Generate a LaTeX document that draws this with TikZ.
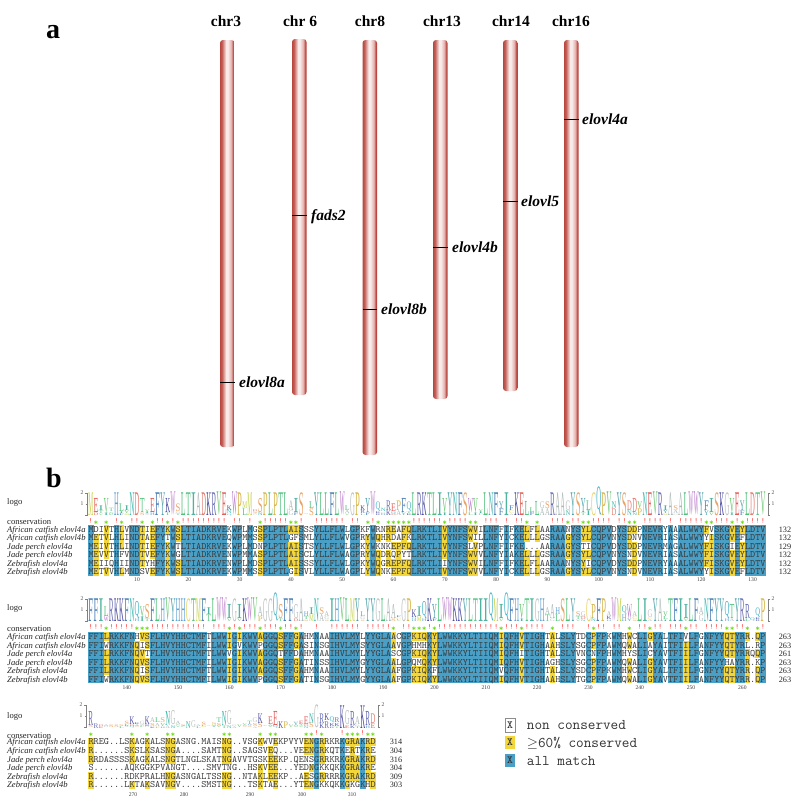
\documentclass[tikz,border=0pt]{standalone}
\usepackage{graphicx}
\usepackage{fontspec}
\setmainfont{Liberation Serif}
\definecolor{tubeD}{HTML}{B9463F}
\definecolor{tubeM}{HTML}{C4605A}
\definecolor{tubeL}{HTML}{F8ECEB}
\definecolor{tubeP}{HTML}{E4B0AC}
\definecolor{allblue}{HTML}{4A9FC6}
\definecolor{majyellow}{HTML}{F3D63A}
\definecolor{lgA}{HTML}{A9B7B5}\definecolor{lgR}{HTML}{6C70B4}\definecolor{lgN}{HTML}{3FB8B0}
\definecolor{lgD}{HTML}{E27A70}\definecolor{lgC}{HTML}{EBD468}\definecolor{lgQ}{HTML}{45B4C8}
\definecolor{lgE}{HTML}{E0605C}\definecolor{lgG}{HTML}{BFC3C3}\definecolor{lgH}{HTML}{62A4D4}
\definecolor{lgI}{HTML}{4FB3A0}\definecolor{lgL}{HTML}{4FC07A}\definecolor{lgK}{HTML}{4B4CA0}
\definecolor{lgM}{HTML}{C4D246}\definecolor{lgF}{HTML}{4F80B4}\definecolor{lgP}{HTML}{D8B850}
\definecolor{lgS}{HTML}{EBA364}\definecolor{lgT}{HTML}{5CC486}\definecolor{lgW}{HTML}{B574C6}
\definecolor{lgY}{HTML}{4FA2AC}\definecolor{lgV}{HTML}{62C468}
\pgfdeclarehorizontalshading{tube}{100bp}{color(0bp)=(tubeD);color(25bp)=(tubeD);color(32bp)=(tubeM);color(46bp)=(tubeL);color(52bp)=(tubeL);color(64bp)=(tubeP);color(71bp)=(tubeD);color(75bp)=(tubeD);color(100bp)=(tubeD)}
\tikzset{
  chrom/.style={shading=tube,rounded corners=3pt},
  chrlabel/.style={font=\fontsize{15.5}{16}\selectfont\bfseries,anchor=base,inner sep=0pt},
  genelabel/.style={font=\fontsize{15.5}{16}\selectfont\bfseries\itshape,anchor=base west,inner sep=0pt},
  geneline/.style={black,line width=0.9pt},
  panel/.style={font=\fontsize{28}{28}\selectfont\bfseries,anchor=base west,inner sep=0pt},
  sidelabel/.style={font=\fontsize{8.6}{9}\selectfont,anchor=base west,inner sep=0pt,text=black!85},
  species/.style={font=\fontsize{8.6}{9}\selectfont\itshape,anchor=base west,inner sep=0pt,text=black!85},
  total/.style={font=\fontsize{8.2}{9}\selectfont,anchor=base,inner sep=0pt,text=black!85},
  poslabel/.style={font=\fontsize{5.6}{6}\selectfont,anchor=base,inner sep=0pt,text=black!75},
  ticklabel/.style={font=\fontsize{5.6}{6}\selectfont,inner sep=0pt,text=black!70},
  logoaxis/.style={draw=black!50,line width=0.5pt},
  seqtext/.style={font=\ttfamily\fontsize{9.77}{10}\selectfont,anchor=base west,inner sep=0pt,text=black!78},
  logoletter/.style={anchor=south,inner sep=0pt,outer sep=0pt},
  consbang/.style={font=\ttfamily\fontsize{8}{8}\selectfont,anchor=base,inner sep=0pt,text=red!70!white},
  consstar/.style={font=\ttfamily\fontsize{9}{9}\selectfont,anchor=base,inner sep=0pt,text=green!55!yellow!85!black},
  legendbox/.style={minimum width=10pt,minimum height=13.5pt,inner sep=0pt,font=\ttfamily\bfseries\fontsize{11}{11}\selectfont,text=black!80},
  legendtext/.style={font=\ttfamily\fontsize{14.8}{15}\selectfont,anchor=base west,inner sep=0pt,text=black!80},
}
\makeatletter
\newcount\tmpn \newcount\stackn \newcount\maxn
\newdimen\colx \newdimen\coly \newdimen\colc \newdimen\ytop \newdimen\rstep
\newdimen\cwid \newdimen\enty \newdimen\logf \newdimen\logoy \newdimen\logbase \newdimen\loglh \newdimen\consy
\def\dotc{.}
\cwid=5.13pt
\def\popc#1#2\relax#3#4{\def#3{#1}\def#4{#2}}
\def\popfrom#1#2{\expandafter\popc#1\relax#2#1}
\def\eqcount#1{\tmpn=0 \ifx#1\chA\advance\tmpn by 1 \fi\ifx#1\chB\advance\tmpn by 1 \fi\ifx#1\chC\advance\tmpn by 1 \fi\ifx#1\chD\advance\tmpn by 1 \fi\ifx#1\chE\advance\tmpn by 1 \fi\ifx#1\chF\advance\tmpn by 1 \fi}
\def\setrow#1#2#3{\eqcount#1\edef#2{\the\tmpn}\ifx#1\dotc\def#3{0}\else\edef#3{\the\tmpn}\fi\ifnum#3>\maxn\maxn=#3\relax\fi}
\def\ecoef#1{\ifcase#1 0\or .4308\or .2642\or .1667\or .0975\or .0438\or 0\fi}
\def\cellfill#1#2{\ifnum#2>3 \coly=\ytop\advance\coly by -#1\rstep
  \fill[majyellow] (\the\colx,\the\coly) rectangle ++(5.35pt,-\the\rstep);\fi}
\def\stackrow#1#2{\ifnum#2=\stackn
   \loglh=\logf\multiply\loglh by 23 \multiply\loglh by #2 \divide\loglh by 6
   \advance\loglh by -0.3pt
   \ifdim\loglh>0.6pt
     \edef\tmpcol{lg#1}%
     \node[logoletter,text=\tmpcol] at (\the\colc,\the\logoy) {\resizebox{4.8pt}{\the\loglh}{\smash{#1}\vphantom{#1}}};
     \advance\logoy by \loglh
   \fi
   \advance\logoy by 0.3pt
 \fi}
\def\stackall{\stackrow\chA\uA\stackrow\chB\uB\stackrow\chC\uC\stackrow\chD\uD\stackrow\chE\uE\stackrow\chF\uF}
\def\docolumn{%
 \popfrom\rowA\chA\popfrom\rowB\chB\popfrom\rowC\chC\popfrom\rowD\chD\popfrom\rowE\chE\popfrom\rowF\chF
 \maxn=0
 \setrow\chA\mA\nA\setrow\chB\mB\nB\setrow\chC\mC\nC\setrow\chD\mD\nD\setrow\chE\mE\nE\setrow\chF\mF\nF
 \let\uA\nA
 \let\uB\nB \ifx\chB\chA\def\uB{0}\fi
 \let\uC\nC \ifx\chC\chA\def\uC{0}\fi\ifx\chC\chB\def\uC{0}\fi
 \let\uD\nD \ifx\chD\chA\def\uD{0}\fi\ifx\chD\chB\def\uD{0}\fi\ifx\chD\chC\def\uD{0}\fi
 \let\uE\nE \ifx\chE\chA\def\uE{0}\fi\ifx\chE\chB\def\uE{0}\fi\ifx\chE\chC\def\uE{0}\fi\ifx\chE\chD\def\uE{0}\fi
 \let\uF\nF \ifx\chF\chA\def\uF{0}\fi\ifx\chF\chB\def\uF{0}\fi\ifx\chF\chC\def\uF{0}\fi\ifx\chF\chD\def\uF{0}\fi\ifx\chF\chE\def\uF{0}\fi
 \colc=\colx\advance\colc by 2.565pt
 \ifnum\maxn=6
   \coly=\ytop
   \fill[allblue] (\the\colx,\the\coly) rectangle ++(5.35pt,{-6*\rstep});
   \node[consbang] at (\the\colc,\the\consy) {!};
 \else
   \cellfill0\nA\cellfill1\nB\cellfill2\nC\cellfill3\nD\cellfill4\nE\cellfill5\nF
   \ifnum\maxn>3 \coly=\consy\advance\coly by -2pt \node[consstar] at (\the\colc,\the\coly) {*};\fi
 \fi
 \enty=0pt
 \advance\enty by \ecoef\mA pt\advance\enty by \ecoef\mB pt\advance\enty by \ecoef\mC pt
 \advance\enty by \ecoef\mD pt\advance\enty by \ecoef\mE pt\advance\enty by \ecoef\mF pt
 \logf=1pt\advance\logf by -0.3868\enty
 \logoy=\logbase
 \stackn=1 \stackall\stackn=2 \stackall\stackn=3 \stackall\stackn=4 \stackall\stackn=5 \stackall\stackn=6 \stackall
}
\def\colloop{\ifx\rowA\empty\else\docolumn\advance\colx by \cwid\expandafter\colloop\fi}
\def\rowtext#1#2{\coly=\ytop\advance\coly by -#1\rstep\advance\coly by -0.5\rstep\advance\coly by -2.9pt
  \node[seqtext] at (88.3pt,\the\coly) {#2};}
\def\alignblock#1#2#3#4#5#6#7#8#9{\def\rowA{#5}\def\rowB{#6}\def\rowC{#7}\def\rowD{#8}\def\rowE{#9}\let\svA\rowA\let\svB\rowB\let\svC\rowC\let\svD\rowD\let\svE\rowE
  \rstep=#2pt \ytop=-#1pt \advance\ytop by 0.5\rstep
  \logbase=-#3pt \consy=-#4pt \alignblockb}
\def\alignblockb#1{\def\rowF{#1}\let\svF\rowF\colx=88.3pt\colloop
  \rowtext0\svA\rowtext1\svB\rowtext2\svC\rowtext3\svD\rowtext4\svE\rowtext5\svF}
\makeatother
\begin{document}
\begin{tikzpicture}[x=1pt,y=-1pt]
\useasboundingbox (0,0) rectangle (800,806);
\fill[white] (0,0) rectangle (800,806);
% panel a
\node[panel] (pa) at (46,38) {a};
\shade[chrom] (220,40) rectangle (234.5,447);
\shade[chrom] (292,39) rectangle (306.5,395);
\shade[chrom] (362.5,40) rectangle (377,455);
\shade[chrom] (433,40) rectangle (447.5,399);
\shade[chrom] (503,40) rectangle (517.5,391);
\shade[chrom] (564,40) rectangle (578.5,447);
\foreach \nm/\x in {chr3/226,chr 6/300,chr8/370,chr13/442,chr14/511,chr16/571}{\node[chrlabel] at (\x,26) {\nm};}
\draw[geneline] (220,382) -- (234.5,382); \node[genelabel] (g1) at (239,387) {elovl8a};
\draw[geneline] (292,215) -- (306.5,215); \node[genelabel] (g2) at (311,220) {fads2};
\draw[geneline] (362.5,309) -- (377,309); \node[genelabel] (g3) at (381,314) {elovl8b};
\draw[geneline] (433,247) -- (447.5,247); \node[genelabel] (g4) at (452,252) {elovl4b};
\draw[geneline] (503,201) -- (517.5,201); \node[genelabel] (g5) at (521,206) {elovl5};
\draw[geneline] (564,119) -- (578.5,119); \node[genelabel] (g6) at (582,124) {elovl4a};
% panel b
\node[panel] (pb) at (46,487) {b};
\foreach \y/\c in {504.5/logo,524/conservation,610.5/logo,631/conservation,718/logo,738/conservation}{\node[sidelabel] at (7,\y) {\c};}
% block 1
\alignblock{529.3}{8.45}{515.5}{523}
{MDIVTHLVNDTIEFYKWSLTIADKRVEKWPLMGSPLPTLAISSSYLLFLWLGPKFWRNREAFQLRKTLIVYNFSWVILNFFIFKELFLAARAANYSYLCQPVDYSDDPNEVRYAAALWWYFVSKGVEYLDTV}
{METVLHLINDTAEFYTWSLTIADKRVEQWPMMSSPLPTLGFSMLYLLFLWVGPRYWQHRDAFKLRKTLIVYNFSWILLNFYICKELLLGSRAAGYSYLCQPVNYSDNVNEVRIASALWWYYISKGVEFLDTV}
{MEIVTHLINDTIEFYKWTLTIADKRVEKWPLMDNPLPTLAISTSYLLFLWLGPKYWKNKEPFQLRKTLIVYNFSLVPLNFFIFKE...AARAAGYSTICQPVDYSDDPNEVRMAGALWWYFISKGIEYLDTV}
{MEVVTHFVNDTVEFYKWGLTIADKRVENWPMMASPLPTLAISCLYLLFLWAGPRYWQDRQPYTLRKTLIVYNFSWVVLNFYIAKELLLGSRAAGYSYLCQPVNYSNDVNEVRIASALWWYFISKGVEYLDTV}
{MEIIQHIINDTYHFYKWSLTIADKRVENWPLMDSPLPTLAISSSYLLFLWLGPKYWQGREPFQLRKTLIIYNFSWVILNFFIFKELFLAARAANYSYICQPVDYSDDPNEVRYAAALWWYFISKGVEYLDTV}
{METVVHLMNDSVEFYKWSLTIADKRVEKWPMMSSPLPTLGISVLYLLFLWAGPLYWQNKEPFQLRKTLIVYNFSWVVLNFYICKELLLGSRAAGYSYLCQPVNYSNDVNEVRIASALWWYYISKGVEFLDTV}
% block 2
\alignblock{636.7}{8.5}{621.5}{629.2}
{FFILRKKFNHVSFLHVYHHCTMFTLWWIGIKWVAGGQSFFGAHMNAAIHVLMYLYYGLAACGPKIQKYLWWKKYLTIIQMIQFHVTIGHTALSLYTDCPFPKWMHWCLIGYALTFIVLFGNFYYQTYRR.QP}
{FFIWRKKFNQISFLHVYHHCTMFILWWIGVKWVPGGQSFFGASINSGIHVLMYSYYGLAAVGPHMHKYLWWKKYLTIIQMIQFHVTIGHAAHSLYSGCPFPAWMQWALIAYAITFIILFANFYYQTYRL.RP}
{FFILRKKFNQVTFLHVYHHCTMFTLWWVGIKWVAGGQTFFDAHMNAAIHVLMYLYYGLASCGPKIQKYLWWKKYLTIIQMIQFHITIGHTALSLYVNCNFPHWMHYSLICYAVTFIILFGNFYYQTYRRQQP}
{FFILRKKFNQVSFLHVYHHCTMFILWWIGIKWVAGGQSFFGATINSSIHVLMYGYYGLAALGPQMQKYLWWKKYLTIIQMIQFHVTIGHAGHSLYSGCPFPAWMQWALIGYAVTFIILFANFYYHAYRR.KP}
{FFILRKKFNQISFLHVYHHCTMFTLWWIGIKWVAGGQSFFGAHMNAAIHVLMYLYYGLAAFGPKIQKFLWWKKYLTIIQMVQFHVTIGHTALSLYSDCPFPKWMHWCLIGYALTFIILFGNFYYQTYRR.QP}
{FFIWRKKFNQVSFLHVYHHCTMFILWWIGIKWVPGGQSFFGATINSGIHVLMYGYYGLAAFGPKIQKYLWWKKYLTIIQMIQFHVTIGHAAHSLYTGCPFPAWMQWALIGYAVTFIILFANFYYQTYRR.QP}
% block 3
\alignblock{742}{8.6}{728}{735.8}
{RREG..LSKAGKALSNGASNG.MAISNG..VSGKWVEKPVYVENGRRKRKGRAKRD}
{R......SKSLKSASNGA....SAMTNG..SAGSVEQ...VEENGRKQTKERTKRE}
{RRDASSSSKAGKALSNGTLNGLSKATNGAVVTGSKEEKP.QENSGRRKRKGRAKRD}
{S......AQKGGKPVANGT....SMVTNG..HSKVEE...YEDNGKKQKKGRAKRE}
{R......RDKPRALHNGASNGALTSSNG..NTAKLEEKP..AESGRRRRKGRAKRD}
{R......LKTAKSAVNGV....SMSTNG...TSKTAE...YTENGKKQKKGKGKHD}
% row labels and totals
\foreach \nm/\a/\b/\c [count=\i from 0] in {African catfish elovl4a/132/263/314,African catfish elovl4b/132/263/304,Jade perch elovl4a/129/261/316,Jade perch elovl4b/132/263/304,Zebrafish elovl4a/132/263/309,Zebrafish elovl4b/132/263/303}{
  \node[species] at (7,{529.3+\i*8.45+2.9}) {\nm};
  \node[species] at (7,{636.7+\i*8.5+2.9}) {\nm};
  \node[species] at (7,{742+\i*8.6+2.9}) {\nm};
  \node[total] at (785,{529.3+\i*8.45+2.9}) {\a};
  \node[total] at (785,{636.7+\i*8.5+2.9}) {\b};
  \node[total] at (396,{742+\i*8.6+2.9}) {\c};
}
% position labels
\foreach \lab in {10,20,...,130}{\node[poslabel] at ({88.3+(\lab-0.5)*5.13},581) {\lab};}
\foreach \lab in {140,150,...,260}{\node[poslabel] at ({88.3+(\lab-132-0.5)*5.13},689.5) {\lab};}
\foreach \lab/\x in {270/133,280/184,290/250,300/302,310/352}{\node[poslabel] at (\x,796) {\lab};}
% logo axes
\foreach \t/\xl/\xr in {493/87/768,599/87/768,705/86/378}{
  \draw[logoaxis] (\xl-2,\t) -- (\xl,\t) -- (\xl,\t+22.5) -- (\xl-2,\t+22.5);
  \draw[logoaxis] (\xl-1.5,\t+11) -- (\xl,\t+11);
  \draw[logoaxis] (\xr+2,\t) -- (\xr,\t) -- (\xr,\t+22.5) -- (\xr+2,\t+22.5);
  \draw[logoaxis] (\xr+1.5,\t+11) -- (\xr,\t+11);
  \node[ticklabel] at (\xl-5,\t) {2}; \node[ticklabel] at (\xl-5,\t+11) {1};
  \node[ticklabel] at (\xr+5,\t) {2}; \node[ticklabel] at (\xr+5,\t+11) {1};
}
% legend
\node[legendbox,draw=black!45,fill=white] (k1) at (510,725) {X};
\node[legendbox,fill=majyellow] (k2) at (510,742.5) {X};
\node[legendbox,fill=allblue] (k3) at (510,760.5) {X};
\node[legendtext] (t1) at (526.7,729.5) {non conserved};
\node[legendtext] (t2) at (526.7,747.5) {$\geq$60\% conserved};
\node[legendtext] (t3) at (526.7,765) {all match};
\end{tikzpicture}
\end{document}
